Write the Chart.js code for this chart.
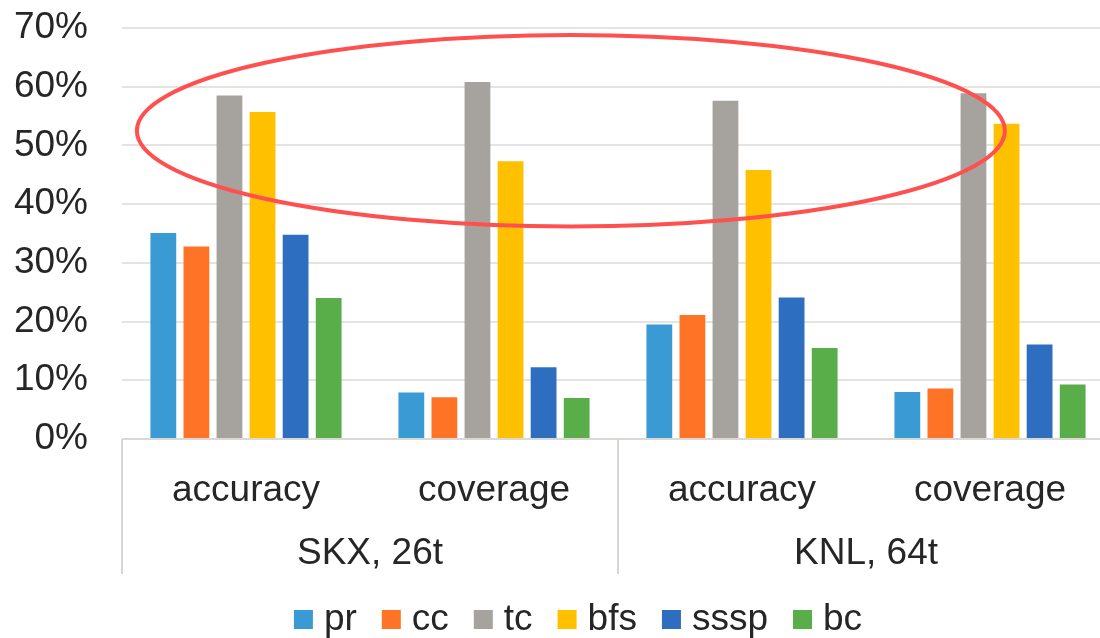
<!DOCTYPE html>
<html>
<head>
<meta charset="utf-8">
<script src="https://cdn.jsdelivr.net/npm/chart.js@4.4.1/dist/chart.umd.min.js"></script>
<style>
  html, body { margin: 0; padding: 0; background: #fff; overflow: hidden; }
  #wrap { position: relative; width: 1120px; height: 638px; }
</style>
</head>
<body>
<div id="wrap"><canvas id="chart"></canvas></div>
<script>
const categories = ['accuracy', 'coverage', 'accuracy', 'coverage'];
const groups     = ['SKX, 26t', 'KNL, 64t'];
const yTicks     = [0, 10, 20, 30, 40, 50, 60, 70];

const pr   = [35.1,  7.9, 19.5,  8.0];
const cc   = [32.8,  7.1, 21.1,  8.6];
const tc   = [58.5, 60.8, 57.6, 58.9];
const bfs  = [55.7, 47.3, 45.8, 53.7];
const sssp = [34.8, 12.2, 24.1, 16.1];
const bc   = [24.0,  7.0, 15.5,  9.3];

// highlight ring, in axis units (category index / percent)
const ring = { x: 1.31, rx: 1.75, y: 52.5, ry: 16.3 };

const FONT = "'Liberation Sans', Arial, sans-serif";
const TEXT = '#262626';

const series = [
  { label: 'pr',   data: pr,   color: '#3A9AD4' },
  { label: 'cc',   data: cc,   color: '#FF7326' },
  { label: 'tc',   data: tc,   color: '#A6A39E' },
  { label: 'bfs',  data: bfs,  color: '#FFC000' },
  { label: 'sssp', data: sssp, color: '#2E6EC0' },
  { label: 'bc',   data: bc,   color: '#5AAE4A' },
];

// second level of the category axis + separators
const groupAxis = {
  id: 'groupAxis',
  afterDraw(chart) {
    const { ctx, scales: { x }, chartArea } = chart;
    const top = chartArea.bottom, bottom = top + 135;
    ctx.save();
    ctx.strokeStyle = '#d6d6d2';
    ctx.lineWidth = 2;
    [-0.5, 1.5, 3.5].forEach(i => {
      const px = Math.round(x.getPixelForValue(i));
      ctx.beginPath();
      ctx.moveTo(px, top);
      ctx.lineTo(px, bottom);
      ctx.stroke();
    });
    ctx.fillStyle = TEXT;
    ctx.font = '37px ' + FONT;
    ctx.textAlign = 'center';
    ctx.textBaseline = 'alphabetic';
    groups.forEach((g, i) => {
      const px = x.getPixelForValue(i * 2 + 0.5);
      ctx.fillText(g, px, top + 125);
    });
    ctx.restore();
  }
};

const ellipse = {
  id: 'ellipse',
  afterDatasetsDraw(chart) {
    const { ctx, scales: { x, y } } = chart;
    const cx = x.getPixelForValue(ring.x);
    const rx = x.getPixelForValue(ring.x + ring.rx) - cx;
    const cy = y.getPixelForValue(ring.y);
    const ry = y.getPixelForValue(ring.y - ring.ry) - cy;
    ctx.save();
    ctx.strokeStyle = '#FF5050';
    ctx.lineWidth = 4;
    ctx.beginPath();
    ctx.ellipse(cx, cy, rx, ry, 0, 0, Math.PI * 2);
    ctx.stroke();
    ctx.restore();
  }
};

const legendRow = {
  id: 'legendRow',
  afterDraw(chart) {
    const { ctx } = chart;
    const box = 19, gap = 11, spacing = 25, centerX = 578, baseY = 630;
    ctx.save();
    ctx.font = '37px ' + FONT;
    const items = chart.data.datasets.map(d => ({ label: d.label, color: d.backgroundColor, w: ctx.measureText(d.label).width }));
    const total = items.reduce((s, it) => s + box + gap + it.w, 0) + spacing * (items.length - 1);
    let px = centerX - total / 2;
    ctx.textAlign = 'left';
    ctx.textBaseline = 'alphabetic';
    items.forEach(it => {
      ctx.fillStyle = it.color;
      ctx.fillRect(px, baseY - 20, box, box);
      ctx.fillStyle = TEXT;
      ctx.fillText(it.label, px + box + gap, baseY);
      px += box + gap + it.w + spacing;
    });
    ctx.restore();
  }
};

new Chart(document.getElementById('chart'), {
  type: 'bar',
  data: {
    labels: categories,
    datasets: series.map(s => ({
      label: s.label,
      data: s.data,
      backgroundColor: s.color,
      borderWidth: 0,
      categoryPercentage: 0.8,
      barPercentage: 0.78,
    }))
  },
  options: {
    responsive: true, maintainAspectRatio: false,
    animation: false,
    layout: { padding: { top: 28, right: 6, left: 0, bottom: 0 } },
    plugins: { legend: { display: false }, tooltip: { enabled: false } },
    scales: {
      x: {
        grid: { display: false },
        border: { display: false },
        ticks: { font: { family: FONT, size: 37 }, color: TEXT, padding: 22, maxRotation: 0 },
        afterFit: s => { s.height = 199; }
      },
      y: {
        min: 0, max: 70,
        afterBuildTicks: s => { s.ticks = yTicks.map(v => ({ value: v })); },
        afterFit: s => { s.width = 122; s.paddingTop = 0; s.paddingBottom = 0; },
        border: { display: false },
        grid: {
          drawTicks: false,
          color: c => c.tick.value === 0 ? '#d9d9d5' : '#e4e4e0',
          lineWidth: 2,
        },
        ticks: { font: { family: FONT, size: 37 }, color: TEXT, padding: 34, callback: v => v + '%' }
      }
    }
  },
  plugins: [groupAxis, ellipse, legendRow]
});
</script>
</body>
</html>
